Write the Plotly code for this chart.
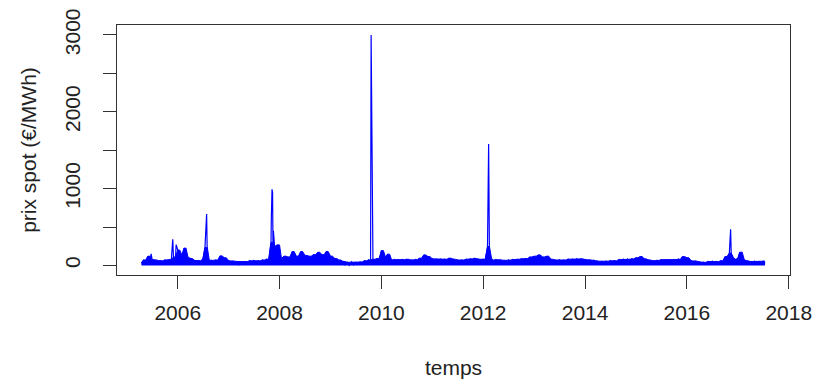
import pandas as pd
import plotly.graph_objects as go

# Semi-monthly readings (1st and 15th of each month), values in €/MWh
v2005 = [30, 70, 35, 120, 45, 75, 30, 65, 25, 60, 35, 70, 30, 75, 50, 110, 70]  # from 15 Apr 2005
v2006 = [200, 90, 130, 225, 110, 70, 90, 35, 65, 25, 60, 30, 90, 232, 70, 30, 65, 35, 70, 40, 124, 50, 100, 30]
v2007 = [60, 20, 55, 15, 50, 10, 45, 15, 50, 20, 60, 25, 65, 30, 60, 25, 70, 35, 80, 50, 300, 250, 130, 267]
v2008 = [90, 40, 120, 50, 110, 45, 180, 60, 120, 50, 180, 70, 130, 60, 120, 55, 140, 60, 170, 70, 140, 60, 180, 50]
v2009 = [120, 40, 90, 30, 70, 15, 50, 5, 40, 0, 45, 5, 40, 10, 45, 15, 60, 20, 70, 30, 80, 30, 90, 40]
v2010 = [193, 60, 100, 146, 70, 35, 75, 30, 70, 35, 75, 30, 80, 35, 70, 30, 75, 40, 94, 50, 137, 60, 115, 50]
v2011 = [85, 40, 80, 35, 85, 40, 80, 45, 94, 40, 80, 35, 70, 30, 70, 35, 80, 40, 85, 45, 90, 40, 80, 35]
v2012 = [80, 40, 245, 90, 70, 35, 75, 40, 70, 30, 65, 30, 70, 35, 75, 35, 80, 40, 85, 40, 90, 35, 110, 25]
v2013 = [120, 30, 137, 35, 110, 25, 120, 20, 80, 25, 70, 25, 75, 30, 70, 30, 80, 35, 80, 35, 85, 40, 85, 35]
v2014 = [75, 35, 70, 30, 65, 25, 55, 20, 50, 15, 55, 20, 60, 25, 60, 25, 75, 35, 80, 35, 80, 35, 85, 40]
v2015 = [100, 40, 115, 45, 85, 35, 70, 30, 60, 20, 65, 25, 75, 30, 70, 30, 70, 30, 75, 35, 80, 35, 115, 40]
v2016 = [100, 35, 60, 20, 55, 20, 45, 15, 40, 10, 50, 20, 55, 25, 50, 20, 60, 30, 115, 70, 160, 100, 80, 60]
v2017 = [90, 172, 80, 35, 60, 20, 50, 20, 55, 15, 50, 20, 55, 25]  # to 15 Jul 2017

# Price spikes
spike_dates = ["2005-06-24", "2005-11-26", "2005-12-20", "2006-07-27", "2007-11-03",
               "2007-11-08", "2007-11-12", "2007-11-18", "2009-10-19", "2012-02-09",
               "2016-11-10"]
spike_values = [150, 340, 270, 670, 600, 990, 950, 450, 3000, 1580, 470]

# Axis ticks
x_tick_years = [2006, 2008, 2010, 2012, 2014, 2016, 2018]
y_tick_vals = [0, 500, 1000, 1500, 2000, 2500, 3000]
y_tick_text = ["0", "", "1000", "", "2000", "", "3000"]

yearly = {2005: v2005, 2006: v2006, 2007: v2007, 2008: v2008, 2009: v2009, 2010: v2010,
          2011: v2011, 2012: v2012, 2013: v2013, 2014: v2014, 2015: v2015, 2016: v2016,
          2017: v2017}
frames = []
for yr, vals in yearly.items():
    start = "2005-04-15" if yr == 2005 else f"{yr}-01-01"
    d = pd.date_range(start, periods=len(vals), freq="SMS")
    frames.append(pd.DataFrame({"date": d, "price": vals}))
base = pd.concat(frames).sort_values("date").reset_index(drop=True)
spikes = pd.DataFrame({"date": pd.to_datetime(spike_dates), "price": spike_values})
df = pd.concat([base, spikes]).sort_values("date").reset_index(drop=True)

# upper envelope of the dense daily band (max of neighbouring readings)
band_top = base["price"].rolling(2, min_periods=1).max()

fig = go.Figure()
fig.add_trace(go.Scatter(x=base["date"], y=band_top, mode="lines",
                         line=dict(color="#0000FF", width=1),
                         fill="tozeroy", fillcolor="#0000FF",
                         hoverinfo="skip", showlegend=False))
fig.add_trace(go.Scatter(x=df["date"], y=df["price"], mode="lines",
                         line=dict(color="#0000FF", width=1.2), showlegend=False))

font = dict(family="Liberation Sans, Arial, sans-serif", size=21, color="#222222")
axis_common = dict(showline=True, mirror=True, linecolor="#333333", linewidth=1,
                   ticks="outside", ticklen=13, tickwidth=1, tickcolor="#333333",
                   showgrid=False, zeroline=False, tickfont=font)

fig.update_xaxes(range=["2004-10-22", "2018-01-10"], type="date",
                 tickvals=[f"{y}-01-01" for y in x_tick_years],
                 ticktext=[str(y) for y in x_tick_years],
                 ticklabelstandoff=6,
                 title=dict(text="temps", font=font, standoff=37),
                 **axis_common)
fig.update_yaxes(range=[-125, 3130], tickvals=y_tick_vals, ticktext=y_tick_text,
                 tickangle=-90, ticklabelstandoff=15,
                 title=dict(text="prix spot (€/MWh)", font=font, standoff=18),
                 **axis_common)

# page body has an 8px default margin; plot box spans x 117-790, y 25-275 on the page
fig.update_layout(width=815, height=382,
                  margin=dict(l=109, r=33, t=17, b=115, autoexpand=False),
                  paper_bgcolor="white", plot_bgcolor="white", font=font)

fig.write_html("out.html")
